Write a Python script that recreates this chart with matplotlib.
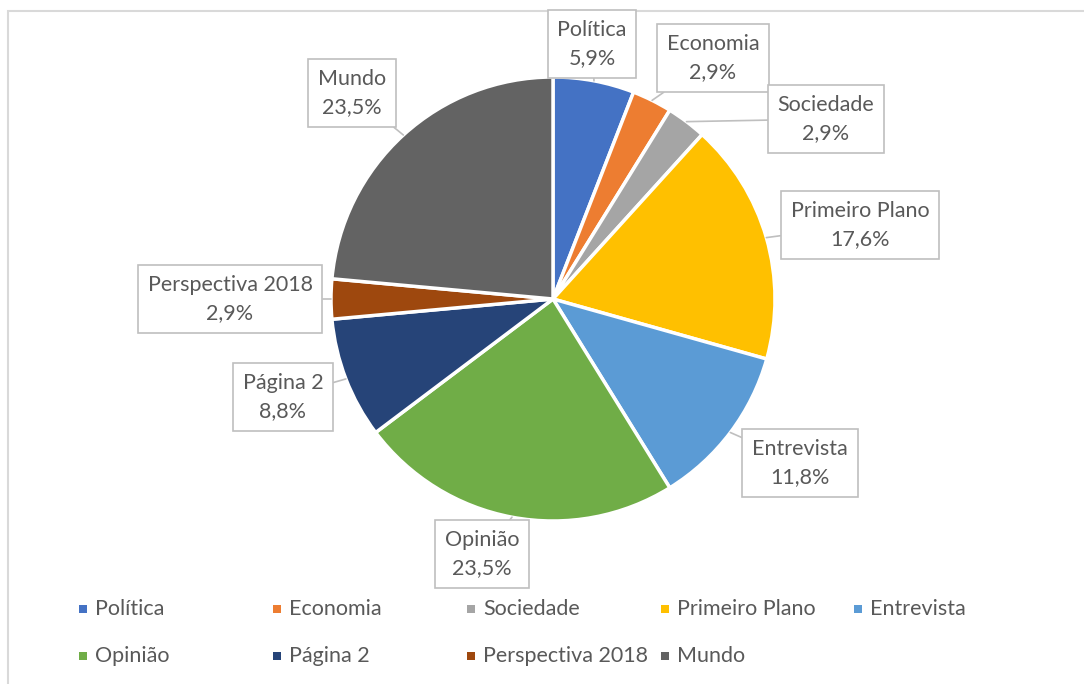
"""
Pie chart of article sections (share of pieces per section)
"""

import numpy as np
import matplotlib.pyplot as plt
from matplotlib.patches import Rectangle

### data
sections = ["Política", "Economia", "Sociedade", "Primeiro Plano", "Entrevista",
            "Opinião", "Página 2", "Perspectiva 2018", "Mundo"]
shares = [5.9, 2.9, 2.9, 17.6, 11.8, 23.5, 8.8, 2.9, 23.5]
colors = ["#4472c4", "#ed7d31", "#a5a5a5", "#ffc000", "#5b9bd5",
          "#70ad47", "#264478", "#9e480e", "#636363"]

### layout (pixels, y from top)
W, H = 1084, 684
cx, cy, r = 553, 299, 222
label_pos = [(592, 44), (713, 58), (826, 119), (860, 225), (800, 463),
             (482, 554), (283, 397), (230, 299), (352, 93)]
fs = 15.5
txt = "#595959"
plt.rcParams["font.family"] = ["Lato", "DejaVu Sans"]

fig = plt.figure(figsize=(W / 100, H / 100), dpi=100)
ax = fig.add_axes([0, 0, 1, 1])
ax.set_xlim(0, W)
ax.set_ylim(0, H)
ax.set_aspect("equal")
ax.axis("off")

# outer chart frame
ax.add_patch(Rectangle((8, -10), W + 20, H - 11 + 10, fill=False,
                       edgecolor="#d9d9d9", linewidth=1.5))

wedges, _ = ax.pie(shares, colors=colors, startangle=90, counterclock=False,
                   center=(cx, H - cy), radius=r,
                   wedgeprops=dict(edgecolor="white", linewidth=2.5))
ax.set_xlim(0, W)
ax.set_ylim(0, H)

for w, name, val, (lx, ly) in zip(wedges, sections, shares, label_pos):
    ang = np.deg2rad((w.theta1 + w.theta2) / 2)
    px = cx + r * np.cos(ang)
    py = (H - cy) + r * np.sin(ang)
    ax.annotate(f"{name}\n{val:.1f}%".replace(".", ","), xy=(px, py),
                xytext=(lx, H - ly), ha="center", va="center",
                fontsize=fs, color=txt, linespacing=1.5,
                bbox=dict(boxstyle="square,pad=0.45", facecolor="white",
                          edgecolor="#bfbfbf", linewidth=1.2),
                arrowprops=dict(arrowstyle="-", color="#bfbfbf", linewidth=1.2,
                                shrinkA=0, shrinkB=0))

# legend, fixed-width columns like the original
col_x = [83, 277, 471, 665, 858]
row_y = [609, 656]
for i, (name, c) in enumerate(zip(sections, colors)):
    x = col_x[i % 5]
    y = H - row_y[i // 5]
    ax.add_patch(Rectangle((x - 4, y - 4), 8, 8, facecolor=c, edgecolor="none"))
    ax.text(x + 12, y, name, fontsize=fs, color=txt, va="center", ha="left")

plt.savefig("out.png", dpi=100)
